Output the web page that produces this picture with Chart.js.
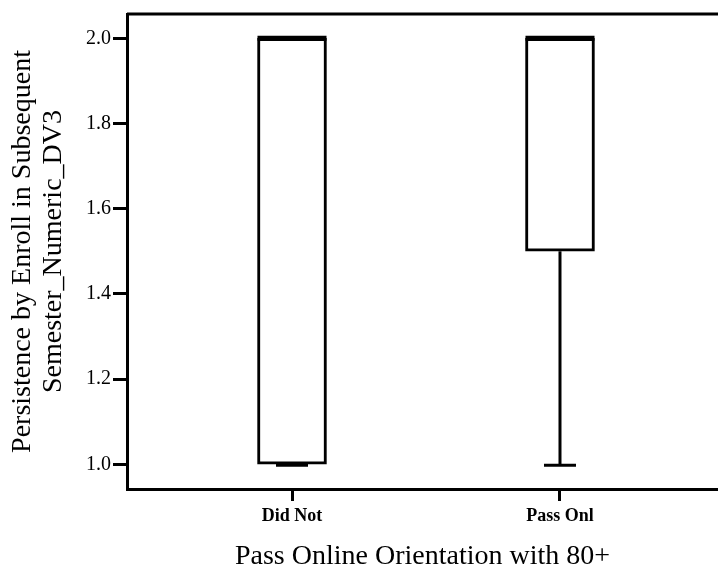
<!DOCTYPE html>
<html>
<head>
<meta charset="utf-8">
<script src="https://cdn.jsdelivr.net/npm/chart.js@4/dist/chart.umd.min.js"></script>
<style>
   body { margin: 0; background: #fff; }
   canvas { display: block; }
</style>
</head>
<body>
<canvas id="boxChart" width="718" height="573"></canvas>
<script>
// box plot values
const categories = ['Did Not', 'Pass Onl'];
const mins = [1.0, 1.0];
const q1s = [1.0, 1.5];
const medians = [2.0, 2.0];
const q3s = [2.0, 2.0];
const maxs = [2.0, 2.0];
const yTicks = [1.0, 1.2, 1.4, 1.6, 1.8, 2.0];

const serif = 'Liberation Serif';

// medians, whiskers and caps, drawn through the chart's scales
const boxExtras = {
   id: 'boxExtras',
   afterDatasetsDraw(chart) {
      const ctx = chart.ctx;
      const x = chart.scales.x;
      const y = chart.scales.y;
      const bars = chart.getDatasetMeta(0).data;
      ctx.save();
      ctx.strokeStyle = '#000';
      categories.forEach((c, i) => {
         const cx = x.getPixelForValue(i);
         const half = bars[i].width / 2;
         const capHalf = 16;
         // whiskers
         ctx.lineWidth = 3;
         ctx.beginPath();
         ctx.moveTo(cx, y.getPixelForValue(q1s[i]));
         ctx.lineTo(cx, y.getPixelForValue(mins[i]));
         ctx.moveTo(cx, y.getPixelForValue(q3s[i]));
         ctx.lineTo(cx, y.getPixelForValue(maxs[i]));
         ctx.stroke();
         // caps
         ctx.beginPath();
         ctx.moveTo(cx - capHalf, y.getPixelForValue(mins[i]) + 1);
         ctx.lineTo(cx + capHalf, y.getPixelForValue(mins[i]) + 1);
         ctx.moveTo(cx - capHalf, y.getPixelForValue(maxs[i]));
         ctx.lineTo(cx + capHalf, y.getPixelForValue(maxs[i]));
         ctx.stroke();
         // median
         ctx.lineWidth = 5;
         ctx.beginPath();
         ctx.moveTo(cx - half, y.getPixelForValue(medians[i]));
         ctx.lineTo(cx + half, y.getPixelForValue(medians[i]));
         ctx.stroke();
      });
      // top frame line
      const a = chart.chartArea;
      ctx.lineWidth = 3;
      ctx.beginPath();
      ctx.moveTo(a.left, a.top);
      ctx.lineTo(a.right, a.top);
      ctx.stroke();
      ctx.restore();
   }
};

const ctx = document.getElementById('boxChart').getContext('2d');
new Chart(ctx, {
   type: 'bar',
   data: {
      datasets: [{
         data: categories.map((c, i) => ({ x: i, y: [q1s[i], q3s[i]] })),
         backgroundColor: '#fff',
         borderColor: '#000',
         borderWidth: 3,
         borderSkipped: false,
         barThickness: 69
      }]
   },
   options: {
      responsive: false,
      animation: false,
      layout: { padding: { top: 14, right: 0, left: 0, bottom: 0 } },
      plugins: {
         legend: { display: false },
         tooltip: { enabled: false }
      },
      scales: {
         x: {
            type: 'linear',
            min: -0.6157,
            max: 1.5896,
            offset: false,
            afterBuildTicks: axis => { axis.ticks = categories.map((c, i) => ({ value: i })); },
            afterFit: axis => { axis.height = 84; },
            ticks: {
               callback: v => categories[v],
               color: '#000',
               padding: 5,
               maxRotation: 0,
               font: { family: serif, size: 18, weight: 'bold' }
            },
            grid: {
               offset: false,
               drawOnChartArea: false,
               tickLength: 12,
               tickWidth: 3,
               tickColor: '#000'
            },
            border: { display: true, color: '#000', width: 3 },
            title: {
               display: true,
               text: 'Pass Online Orientation with 80+',
               color: '#000',
               padding: { top: 0, bottom: 0 },
               font: { family: serif, size: 28, weight: 'normal' }
            }
         },
         y: {
            min: 0.942,
            max: 2.057,
            afterBuildTicks: axis => { axis.ticks = yTicks.map(v => ({ value: v })); },
            afterFit: axis => { axis.width = 127; },
            ticks: {
               callback: v => v.toFixed(1),
               color: '#000',
               padding: 2,
               font: { family: serif, size: 20 }
            },
            grid: {
               drawOnChartArea: false,
               tickLength: 14,
               tickWidth: 3,
               tickColor: '#000'
            },
            border: { display: true, color: '#000', width: 3 },
            title: {
               display: true,
               text: ['Persistence by Enroll in Subsequent', 'Semester_Numeric_DV3'],
               color: '#000',
               padding: { top: 7, bottom: 0 },
               font: { family: serif, size: 28, weight: 'normal', lineHeight: 1.1 }
            }
         }
      }
   },
   plugins: [boxExtras]
});
</script>
</body>
</html>
